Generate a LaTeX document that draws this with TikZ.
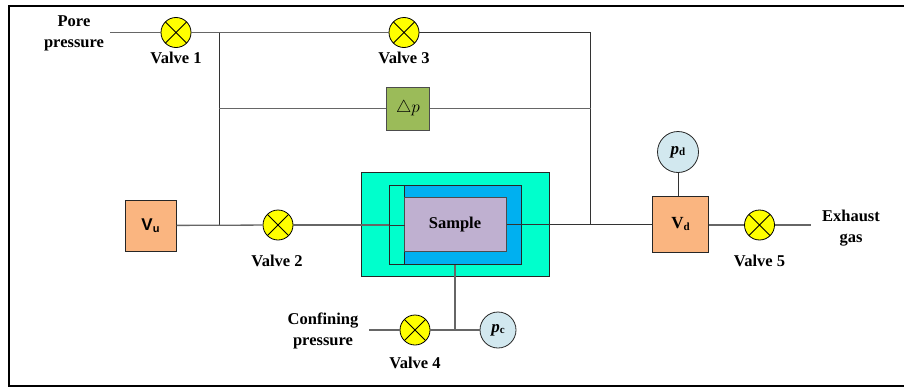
\documentclass[tikz,border=0pt]{standalone}
\usepackage{fontspec}
\setmainfont{Liberation Serif}
\newfontfamily\volfont{Liberation Sans}
\definecolor{valveyellow}{HTML}{FFFF00}
\definecolor{gaugeblue}{HTML}{D2E8EF}
\definecolor{volorange}{HTML}{FAB580}
\definecolor{dpgreen}{HTML}{9BBB59}
\definecolor{jacketgreen}{HTML}{00FFCC}
\definecolor{sleeveblue}{HTML}{00B0F0}
\definecolor{samplepurple}{HTML}{BFB0D0}
\definecolor{pipegray}{HTML}{666666}
\begin{document}
\begin{tikzpicture}[
    x=1pt, y=-1pt,
    pipe/.style={draw=pipegray, line width=1.3pt},
    thin_pipe/.style={draw=black!80, line width=0.9pt},
    valve/.style={circle, draw=black, line width=0.8pt, fill=valveyellow, minimum size=30pt, inner sep=0pt,
        path picture={\draw[line width=0.8pt] (path picture bounding box.north west) -- (path picture bounding box.south east)
            (path picture bounding box.north east) -- (path picture bounding box.south west);}},
    gauge_node/.style={circle, draw=black!85, line width=0.8pt, fill=gaugeblue, inner sep=0pt, font=\fontsize{17}{17}\selectfont\bfseries},
    vol_box/.style={rectangle, draw=black!85, line width=1pt, fill=volorange, inner sep=0pt, font=\fontsize{17}{17}\selectfont\bfseries},
    layer_box/.style={rectangle, draw=black!85, line width=1pt, inner sep=0pt},
    label_text/.style={align=center, inner sep=0pt, font=\fontsize{16.5}{21}\selectfont\bfseries}
]
\useasboundingbox (0,0) rectangle (904,388);
\draw[line width=1.3pt] (904,6) -- (9,6) -- (9,386) -- (904,386);

% sample cell
\node[layer_box, fill=jacketgreen, minimum width=188pt, minimum height=104pt] (jacket) at (455,224.5) {};
\node[layer_box, fill=sleeveblue, minimum width=132pt, minimum height=79.5pt] (sleeve) at (455,224.75) {};
\node[layer_box, fill=jacketgreen, minimum width=15pt, minimum height=79.5pt] (piston) at (396.5,224.75) {};
\node[layer_box, draw=black!70, fill=samplepurple, minimum width=102pt, minimum height=53.5pt, label_text] (sample) at (455,224.5) {Sample};

% valves and gauges
\node[valve] (valve1) at (176,32.5) {};
\node[valve] (valve2) at (278,225) {};
\node[valve] (valve3) at (404,32.5) {};
\node[valve] (valve4) at (415,330) {};
\node[valve] (valve5) at (759.5,225) {};
\node[gauge_node, minimum size=41pt] (gauged) at (678,152) {\textit{p}\raisebox{-1pt}{\fontsize{11}{11}\selectfont d}};
\node[gauge_node, minimum size=36pt] (gaugec) at (498,330) {\textit{p}\raisebox{-1pt}{\fontsize{11}{11}\selectfont c}};

% volumes
\node[vol_box, minimum width=51pt, minimum height=51pt, font=\volfont\fontsize{17}{17}\selectfont\bfseries] (vu) at (150.5,225.5) {V\raisebox{-2pt}{\fontsize{11}{11}\selectfont u}};
\node[vol_box, minimum width=56pt, minimum height=56pt] (vd) at (680.5,224) {V\raisebox{-2pt}{\fontsize{11}{11}\selectfont d}};
\node[rectangle, draw=black!70, line width=1pt, fill=dpgreen, minimum width=43pt, minimum height=43pt, inner sep=0pt, font=\fontsize{19}{19}\selectfont] (dp) at (408,108.5) {$\triangle p$};

% free ends and junctions
\coordinate (porein) at (110,32.5);
\coordinate (confin) at (369,330);
\coordinate (exhaustout) at (811,225);
\coordinate (jtop) at (219,32.5);
\coordinate (jdp) at (219,108.5);
\coordinate (jvu) at (219,225);
\coordinate (jright) at (590.5,32.5);
\coordinate (jrightdp) at (590.5,108.5);
\coordinate (jrightvd) at (590.5,224);
\coordinate (jconf) at (455,330);

\draw[pipe] (porein) -- (valve1);
\draw[pipe] (valve1) -- (jtop) -- (valve3);
\draw[thin_pipe] (valve3) -- (jright) -- (jrightvd);
\draw[thin_pipe] (jtop) -- (jvu);
\draw[pipe] (jdp) -- (dp);
\draw[pipe] (dp) -- (jrightdp);
\draw[pipe] (vu) -- (valve2);
\draw[pipe] (valve2) -- (piston.west |- valve2);
\draw[thin_pipe] (piston.west |- valve2) -- (piston.east |- valve2);
\draw[thin_pipe] (sample.east |- jrightvd) -- (vd.west |- jrightvd);
\draw[thin_pipe] (gauged) -- (vd.north -| gauged);
\draw[pipe] (vd.east |- valve5) -- (valve5);
\draw[pipe] (valve5) -- (exhaustout);
\draw[pipe] (confin) -- (valve4);
\draw[pipe] (valve4) -- (gaugec);
\draw[pipe] (sleeve.south -| jconf) -- (jconf);

% labels
\node[label_text] (lpore) at (74,33.5) {Pore\\pressure};
\node[label_text] (lvalve1) at (176,58) {Valve 1};
\node[label_text] (lvalve3) at (404,58) {Valve 3};
\node[label_text] (lvalve2) at (277,261) {Valve 2};
\node[label_text] (lvalve4) at (415,363) {Valve 4};
\node[label_text] (lvalve5) at (759.5,261) {Valve 5};
\node[label_text] (lconf) at (323,330.5) {Confining\\pressure};
\node[label_text] (lexhaust) at (851,228) {Exhaust\\gas};
\end{tikzpicture}
\end{document}
